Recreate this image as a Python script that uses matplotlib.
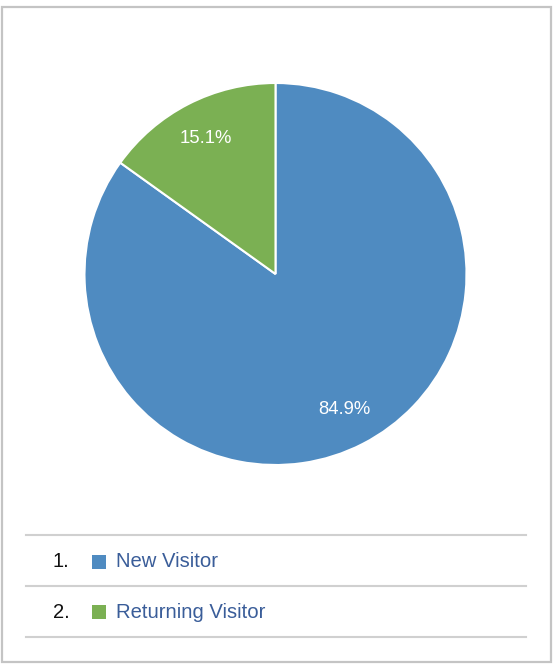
import matplotlib
matplotlib.use("Agg")
import matplotlib.pyplot as plt
from matplotlib.patches import Rectangle
from matplotlib.lines import Line2D
import numpy as np

categories = ["New Visitor", "Returning Visitor"]
values = [84.9, 15.1]
pct_labels = ["84.9%", "15.1%"]
colors = ["#4f8bc1", "#7bb053"]

plt.rcParams['font.family'] = ['Liberation Sans', 'DejaVu Sans']

W, H = 557, 664
fig = plt.figure(figsize=(W / 100, H / 100), dpi=100)
fig.patch.set_facecolor("white")

# outer frame
fig.add_artist(Rectangle((1.5 / W, 1 - 661.5 / H), 549.5 / W, 654.5 / H,
                         transform=fig.transFigure, fill=False,
                         edgecolor="#c4c4c4", linewidth=1.6))

# pie
cx, cy, r = 275.5, 274, 191
ax = fig.add_axes([(cx - r) / W, 1 - (cy + r) / H, 2 * r / W, 2 * r / H])
wedges, texts = ax.pie(values, colors=colors, startangle=90, counterclock=False,
                       wedgeprops=dict(edgecolor="white", linewidth=1.5))
ax.set_xlim(-1, 1)
ax.set_ylim(-1, 1)
ax.set_aspect("equal")
ax.axis("off")

start = 90.0
for v, lab in zip(values, pct_labels):
    mid = np.deg2rad(start - v / 100 * 180)
    ax.text(0.795 * np.cos(mid), 0.795 * np.sin(mid), lab, ha="center", va="center",
            color="white", fontsize=13.3)
    start -= v / 100 * 360

# legend table
x0, x1 = 26 / W, 526 / W
for yl in [534.5, 585.5, 636.5]:
    fig.add_artist(Line2D([x0, x1], [1 - yl / H, 1 - yl / H], transform=fig.transFigure,
                          color="#d0d0d0", linewidth=1.5))

row_y = [561.5, 612]
for i, (cat, col) in enumerate(zip(categories, colors)):
    yf = 1 - row_y[i] / H
    fig.text(53 / W, yf, f"{i + 1}.", ha="left", va="center", fontsize=14.5, color="#111111")
    fig.add_artist(Rectangle((92 / W, 1 - (row_y[i] + 7) / H), 14 / W, 14 / H,
                             transform=fig.transFigure, facecolor=col, edgecolor="none"))
    fig.text(115.5 / W, yf, cat, ha="left", va="center", fontsize=14.6, color="#3a5d99")

fig.savefig("out.png", dpi=100, facecolor="white")
